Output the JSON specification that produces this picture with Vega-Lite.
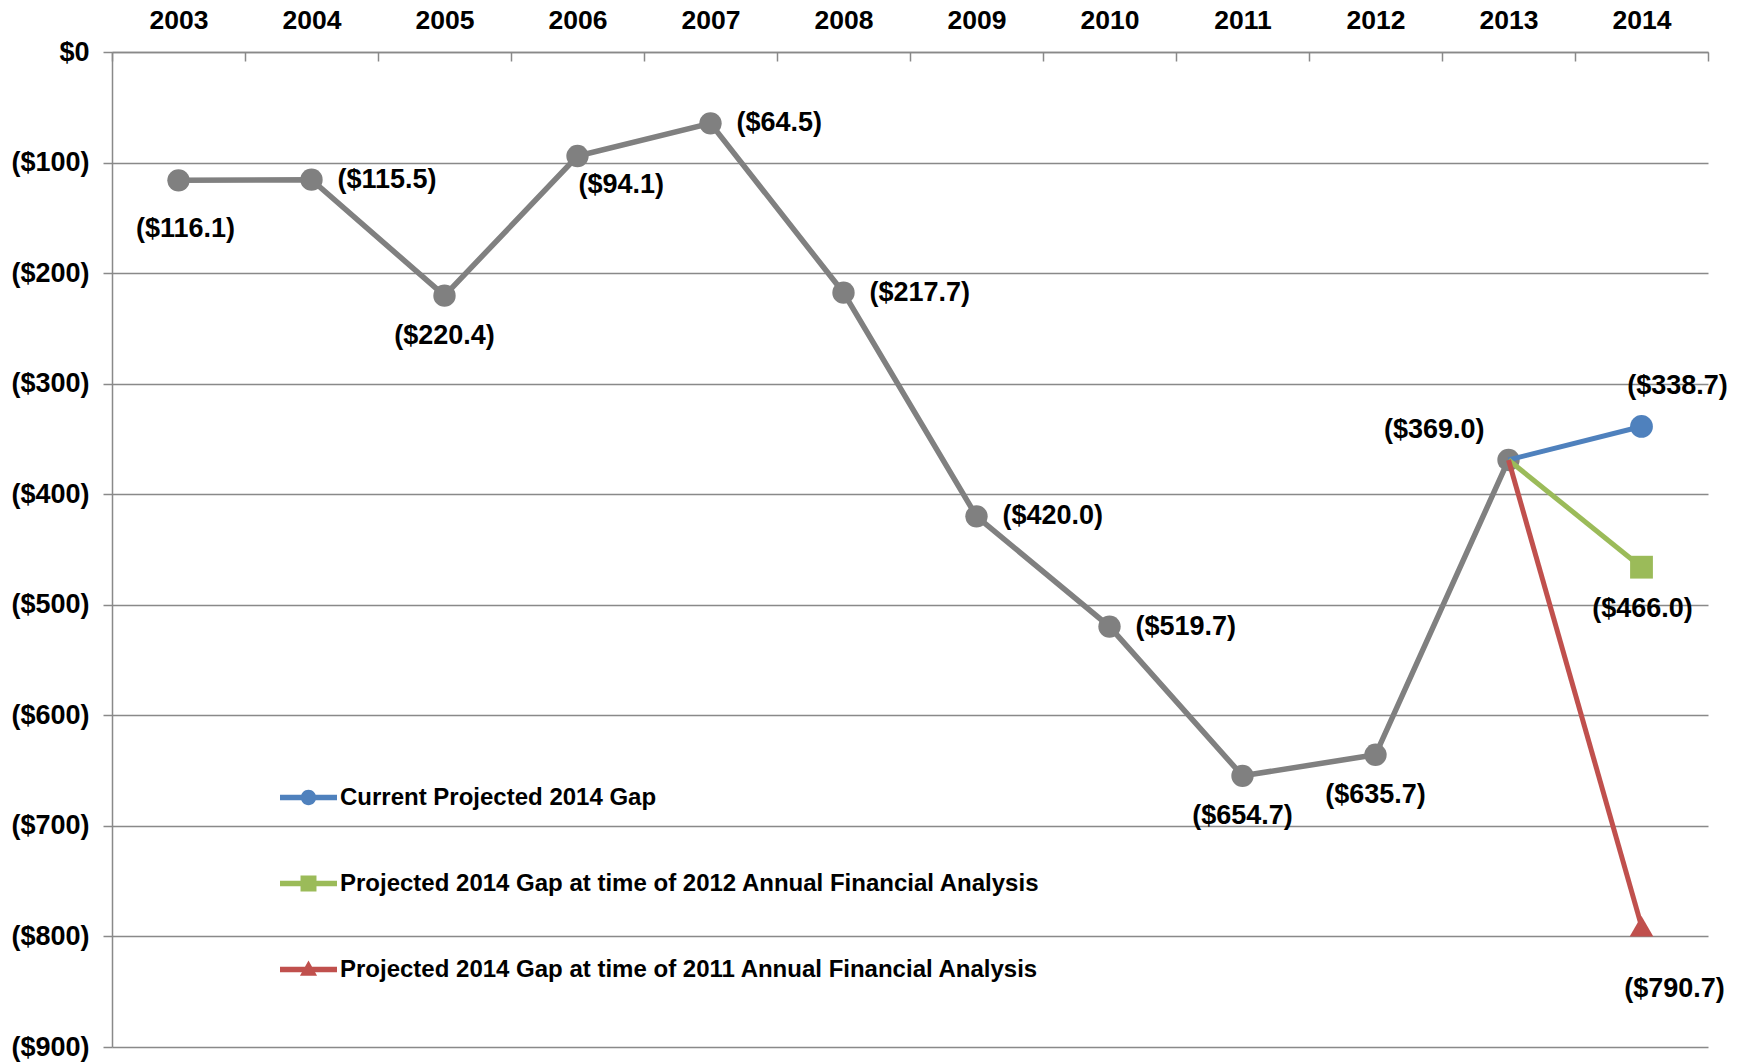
{
  "$schema": "https://vega.github.io/schema/vega-lite/v6.json",
  "width": 1596,
  "height": 995,
  "autosize": {"type": "none"},
  "padding": {"left": 112, "top": 52, "right": 34, "bottom": 15},
  "background": "white",
  "config": {"view": {"stroke": null}, "font": "Liberation Sans"},
  "data": {
    "values": [
      {"series": "History", "year": 2003, "value": -116.1},
      {"series": "History", "year": 2004, "value": -115.5},
      {"series": "History", "year": 2005, "value": -220.4},
      {"series": "History", "year": 2006, "value": -94.1},
      {"series": "History", "year": 2007, "value": -64.5},
      {"series": "History", "year": 2008, "value": -217.7},
      {"series": "History", "year": 2009, "value": -420.0},
      {"series": "History", "year": 2010, "value": -519.7},
      {"series": "History", "year": 2011, "value": -654.7},
      {"series": "History", "year": 2012, "value": -635.7},
      {"series": "History", "year": 2013, "value": -369.0},
      {"series": "Current Projected 2014 Gap", "year": 2013, "value": -369.0},
      {"series": "Current Projected 2014 Gap", "year": 2014, "value": -338.7},
      {"series": "Projected 2014 Gap at time of 2012 Annual Financial Analysis", "year": 2013, "value": -369.0},
      {"series": "Projected 2014 Gap at time of 2012 Annual Financial Analysis", "year": 2014, "value": -466.0},
      {"series": "Projected 2014 Gap at time of 2011 Annual Financial Analysis", "year": 2013, "value": -369.0},
      {"series": "Projected 2014 Gap at time of 2011 Annual Financial Analysis", "year": 2014, "value": -790.7}
    ]
  },
  "encoding": {
    "x": {
      "field": "year",
      "type": "quantitative",
      "scale": {"domain": [2002.5, 2014.5], "nice": false, "zero": false},
      "axis": {
        "orient": "top",
        "title": null,
        "values": [2002.5, 2003, 2003.5, 2004, 2004.5, 2005, 2005.5, 2006, 2006.5, 2007, 2007.5, 2008, 2008.5, 2009, 2009.5, 2010, 2010.5, 2011, 2011.5, 2012, 2012.5, 2013, 2013.5, 2014, 2014.5],
        "labelExpr": "datum.value % 1 == 0 ? toString(datum.value) : ''",
        "labelOverlap": false,
        "labelFlush": false,
        "grid": false,
        "domainColor": "#898989",
        "domainWidth": 1.5,
        "tickColor": {"condition": {"test": "datum.value % 1 != 0", "value": "#898989"}, "value": "transparent"},
        "tickSize": -9,
        "tickWidth": 1.5,
        "labelFont": "Liberation Sans",
        "labelFontSize": 26.5,
        "labelFontWeight": "bold",
        "labelColor": "black",
        "labelPadding": 27
      }
    },
    "y": {
      "field": "value",
      "type": "quantitative",
      "scale": {"domain": [-900, 0], "nice": false},
      "axis": {
        "title": null,
        "values": [-900, -800, -700, -600, -500, -400, -300, -200, -100, 0],
        "format": "($.0f",
        "grid": true,
        "gridColor": "#898989",
        "gridWidth": 1.5,
        "domainColor": "#898989",
        "domainWidth": 1.5,
        "tickColor": "#898989",
        "tickWidth": 1.5,
        "tickSize": 9,
        "labelPadding": 14,
        "labelFont": "Liberation Sans",
        "labelFontSize": 27,
        "labelFontWeight": "bold",
        "labelColor": "black"
      }
    }
  },
  "layer": [
    {
      "transform": [{"filter": "datum.series == 'History'"}],
      "mark": {"type": "line", "color": "#808080", "strokeWidth": 5.5},
      "encoding": {}
    },
    {
      "transform": [{"filter": "datum.series == 'History'"}],
      "mark": {"type": "circle", "color": "#808080", "size": 500, "opacity": 1},
      "encoding": {}
    },
    {
      "transform": [{"filter": "datum.series != 'History'"}],
      "mark": {"type": "line", "strokeWidth": 5},
      "encoding": {
        "color": {
          "field": "series",
          "type": "nominal",
          "scale": {
            "domain": ["Current Projected 2014 Gap", "Projected 2014 Gap at time of 2012 Annual Financial Analysis", "Projected 2014 Gap at time of 2011 Annual Financial Analysis"],
            "range": ["#4F81BD", "#9BBB59", "#C0504D"]
          },
          "legend": {
            "orient": "none",
            "legendX": 168,
            "legendY": 717,
            "title": null,
            "padding": 0,
            "labelFont": "Liberation Sans",
            "labelFontSize": 24,
            "labelFontWeight": "bold",
            "labelColor": "black",
            "labelLimit": 0,
            "labelOffset": 3,
            "symbolSize": 3249,
            "rowPadding": 45,
            "encode": {
              "symbols": {
                "update": {
                  "shape": {"signal": "indexof(datum.value, 'Current') >= 0 ? 'M-1,-0.1H1V0.1H-1Z M-0.27,0A0.27,0.27 0 1,1 0.27,0A0.27,0.27 0 1,1 -0.27,0Z' : (indexof(datum.value, '2012') >= 0 ? 'M-1,-0.1H1V0.1H-1Z M-0.28,-0.28H0.28V0.28H-0.28Z' : 'M-1,-0.1H1V0.1H-1Z M0,-0.32L0.3,0.22H-0.3Z')"},
                  "fill": {"signal": "indexof(datum.value, 'Current') >= 0 ? '#4F81BD' : (indexof(datum.value, '2012') >= 0 ? '#9BBB59' : '#C0504D')"},
                  "stroke": {"value": "transparent"},
                  "strokeWidth": {"value": 0},
                  "opacity": {"value": 1}
                }
              }
            }
          }
        }
      }
    },
    {
      "transform": [{"filter": "datum.series == 'Current Projected 2014 Gap' && datum.year == 2014"}],
      "mark": {"type": "point", "shape": "circle", "filled": true, "color": "#4F81BD", "opacity": 1, "size": 520},
      "encoding": {}
    },
    {
      "transform": [{"filter": "datum.series == 'Projected 2014 Gap at time of 2012 Annual Financial Analysis' && datum.year == 2014"}],
      "mark": {"type": "point", "shape": "square", "filled": true, "color": "#9BBB59", "opacity": 1, "size": 520},
      "encoding": {}
    },
    {
      "transform": [{"filter": "datum.series == 'Projected 2014 Gap at time of 2011 Annual Financial Analysis' && datum.year == 2014"}],
      "mark": {"type": "point", "shape": "triangle-up", "filled": true, "color": "#C0504D", "opacity": 1, "size": 560},
      "encoding": {}
    },
    {
      "transform": [{"filter": "datum.series == 'History' && indexof([2004, 2007, 2008, 2009, 2010], datum.year) >= 0"}],
      "mark": {"type": "text", "font": "Liberation Sans", "fontSize": 27, "fontWeight": "bold", "color": "black", "baseline": "middle", "align": "left", "dx": 26},
      "encoding": {"text": {"field": "value", "type": "quantitative", "format": "($.1f"}}
    },
    {
      "transform": [{"filter": "datum.series == 'History' && indexof([2005, 2011, 2012], datum.year) >= 0"}],
      "mark": {"type": "text", "font": "Liberation Sans", "fontSize": 27, "fontWeight": "bold", "color": "black", "baseline": "middle", "align": "center", "dx": 0, "dy": 40},
      "encoding": {"text": {"field": "value", "type": "quantitative", "format": "($.1f"}}
    },
    {
      "transform": [{"filter": "datum.series == 'History' && datum.year == 2003"}],
      "mark": {"type": "text", "font": "Liberation Sans", "fontSize": 27, "fontWeight": "bold", "color": "black", "baseline": "middle", "align": "center", "dx": 7, "dy": 49},
      "encoding": {"text": {"field": "value", "type": "quantitative", "format": "($.1f"}}
    },
    {
      "transform": [{"filter": "datum.series == 'History' && datum.year == 2006"}],
      "mark": {"type": "text", "font": "Liberation Sans", "fontSize": 27, "fontWeight": "bold", "color": "black", "baseline": "middle", "align": "left", "dx": 1, "dy": 29},
      "encoding": {"text": {"field": "value", "type": "quantitative", "format": "($.1f"}}
    },
    {
      "transform": [{"filter": "datum.series == 'History' && datum.year == 2013"}],
      "mark": {"type": "text", "font": "Liberation Sans", "fontSize": 27, "fontWeight": "bold", "color": "black", "baseline": "middle", "align": "right", "dx": -24, "dy": -30},
      "encoding": {"text": {"field": "value", "type": "quantitative", "format": "($.1f"}}
    },
    {
      "transform": [{"filter": "datum.series == 'Current Projected 2014 Gap' && datum.year == 2014"}],
      "mark": {"type": "text", "font": "Liberation Sans", "fontSize": 27, "fontWeight": "bold", "color": "black", "baseline": "middle", "align": "center", "dx": 36, "dy": -40},
      "encoding": {"text": {"field": "value", "type": "quantitative", "format": "($.1f"}}
    },
    {
      "transform": [{"filter": "datum.series == 'Projected 2014 Gap at time of 2012 Annual Financial Analysis' && datum.year == 2014"}],
      "mark": {"type": "text", "font": "Liberation Sans", "fontSize": 27, "fontWeight": "bold", "color": "black", "baseline": "middle", "align": "center", "dx": 1, "dy": 42},
      "encoding": {"text": {"field": "value", "type": "quantitative", "format": "($.1f"}}
    },
    {
      "transform": [{"filter": "datum.series == 'Projected 2014 Gap at time of 2011 Annual Financial Analysis' && datum.year == 2014"}],
      "mark": {"type": "text", "font": "Liberation Sans", "fontSize": 27, "fontWeight": "bold", "color": "black", "baseline": "middle", "align": "center", "dx": 33, "dy": 63},
      "encoding": {"text": {"field": "value", "type": "quantitative", "format": "($.1f"}}
    }
  ]
}
